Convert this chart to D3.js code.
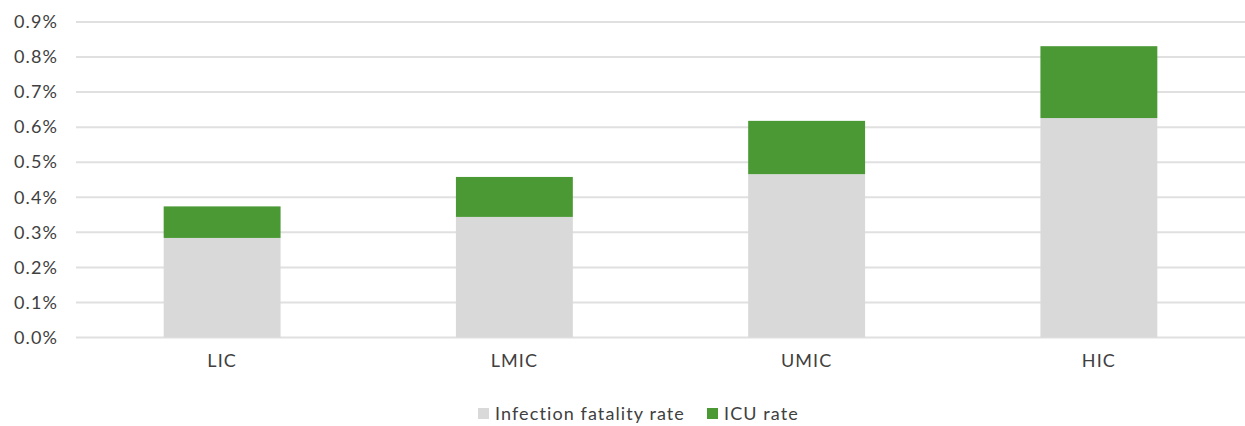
<!DOCTYPE html>
<html><head><meta charset="utf-8">
<script src="https://cdn.jsdelivr.net/npm/d3@7"></script>
<style>body{margin:0;background:#fff}svg{display:block}text{font-family:Lato,"Open Sans",sans-serif;fill:#404040;letter-spacing:1.1px}</style>
</head><body><svg id="c" width="1245" height="426"></svg>
<script>
const categories = ["LIC","LMIC","UMIC","HIC"];
const ifr = [0.284,0.344,0.466,0.626];
const icu = [0.090,0.114,0.152,0.205];
const seriesNames = ["Infection fatality rate","ICU rate"];
const yTicks = [0,0.1,0.2,0.3,0.4,0.5,0.6,0.7,0.8,0.9];
const colors = ["#d9d9d9","#4a9934"];

const svg = d3.select("#c");
const m = {l:76, r:0, t:22, b:88.5};
const W = 1245, H = 426;
const x = d3.scaleBand().domain(categories).range([m.l, W-m.r]).paddingInner(0.6).paddingOuter(0.3);
const y = d3.scaleLinear().domain([0,0.9]).range([H-m.b, m.t]);

const data = categories.map((c,i)=>({cat:c, ifr:ifr[i], icu:icu[i]}));
const stack = d3.stack().keys(["ifr","icu"])(data);

// grid
svg.append("g").selectAll("line").data(yTicks).join("line")
  .attr("x1", m.l).attr("x2", W).attr("y1", d=>y(d)).attr("y2", d=>y(d))
  .attr("stroke","#e0e0e0").attr("stroke-width",2);

// bars
svg.append("g").selectAll("g").data(stack).join("g").attr("fill",(d,i)=>colors[i])
  .selectAll("rect").data(d=>d).join("rect")
  .attr("x", d=>x(d.data.cat)).attr("width", x.bandwidth())
  .attr("y", d=>y(d[1])).attr("height", d=>y(d[0])-y(d[1]));

// y axis
const ya = svg.append("g").attr("transform",`translate(${m.l},0)`)
  .call(d3.axisLeft(y).tickValues(yTicks).tickFormat(d=>d.toFixed(1)+"%").tickSize(0).tickPadding(18));
ya.select(".domain").remove();
ya.selectAll("text").style("font-size","18px").style("font-family",null).attr("fill",null);

// x axis
const xa = svg.append("g").attr("transform",`translate(0,${H-m.b})`)
  .call(d3.axisBottom(x).tickSize(0).tickPadding(17));
xa.select(".domain").remove();
xa.selectAll("text").style("font-size","18px").style("font-family",null).attr("fill",null);

// legend
const leg = svg.append("g");
const lx = [478, 707];
seriesNames.forEach((s,i)=>{
  leg.append("rect").attr("x",lx[i]).attr("y",408).attr("width",11).attr("height",11).attr("fill",colors[i]);
  leg.append("text").attr("x",lx[i]+17).attr("y",419.5).style("font-size","18px").text(s);
});
</script></body></html>
